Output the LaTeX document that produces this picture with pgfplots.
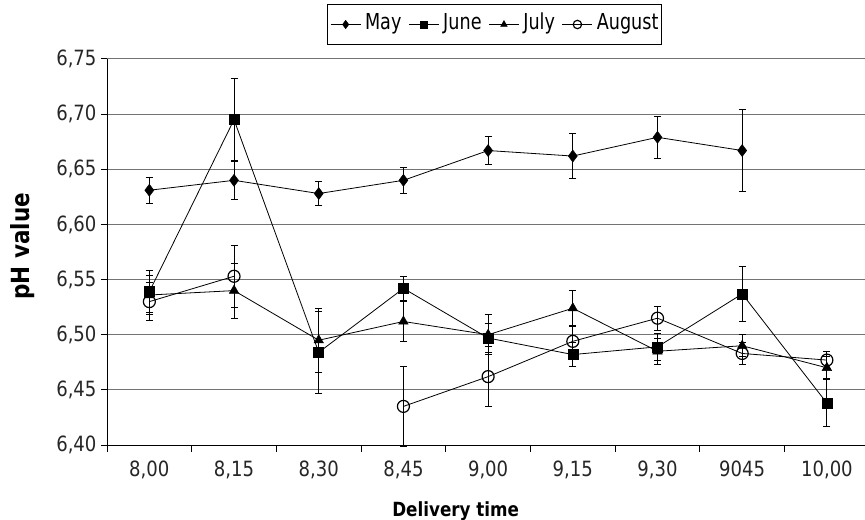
\documentclass[border=0pt]{standalone}
\usepackage{fontspec}
\setmainfont{DejaVu Sans}[FakeStretch=0.86]
\newfontfamily\legfont{DejaVu Sans}[FakeStretch=0.8]
\usepackage{pgfplots}
\pgfplotsset{compat=1.18}
\begin{document}
\begin{tikzpicture}
\useasboundingbox (0,0) rectangle (865bp,520bp);
\begin{axis}[
  at={(107bp,75bp)}, anchor=south west,
  scale only axis, width=758bp, height=386bp,
  xmin=-0.5, xmax=8.45, ymin=6.40, ymax=6.75,
  axis x line*=bottom, axis y line*=left,
  axis line style={black, line width=1bp},
  xtick={0,1,2,3,4,5,6,7,8},
  xticklabels={{8,00},{8,15},{8,30},{8,45},{9,00},{9,15},{9,30},{9045},{10,00}},
  major x tick style={draw=none},
  minor xtick={-0.5,0.5,1.5,2.5,3.5,4.5,5.5,6.5,7.5},
  minor x tick style={black, line width=1bp},
  tick align=outside,
  minor tick length=7bp, major tick length=6bp,
  ytick={6.40,6.45,6.50,6.55,6.60,6.65,6.70,6.75},
  y tick style={black, line width=1bp},
  ymajorgrids, grid style={black!55, line width=1bp},
  yticklabel style={xshift=-1bp, /pgf/number format/.cd, fixed, fixed zerofill, precision=2, use comma},
  /pgf/number format/assume math mode=true,
  tick label style={font=\fontsize{21bp}{25bp}\selectfont, text=black!85},
  xticklabel style={yshift=-6bp},
  ylabel={pH value},
  ylabel style={font=\bfseries\fontsize{25bp}{29bp}\selectfont, at={(axis description cs:-0.112,0.515)}, anchor=center},
  xlabel={Delivery time},
  xlabel style={font=\bfseries\fontsize{19.5bp}{24bp}\selectfont, at={(axis description cs:0.46,-0.1857)}, anchor=base},
  legend style={at={(axis description cs:0.511,1)}, anchor=south, yshift=14bp,
    legend columns=4, draw=black, line width=1bp, inner xsep=3bp, inner ysep=10bp,
    font=\legfont\fontsize{22bp}{25bp}\selectfont,
    nodes={inner sep=0pt, text height=15bp, text depth=5bp},
    /tikz/every odd column/.append style={column sep=4bp},
    /tikz/every even column/.append style={column sep=7bp}},
  legend image code/.code={\draw[mark repeat=2,mark phase=2,#1, every mark/.append style={scale=0.7}] plot coordinates {(0bp,0bp)(15bp,0bp)(30bp,0bp)};},
  unbounded coords=jump,
  clip=false,
]
\addplot[black, line width=0.8bp, mark=diamond*, mark size=6bp, mark options={solid, fill=black, line width=0.5bp},
  error bars/.cd, y dir=both, y explicit, error bar style={line width=1bp, black},
  error mark options={rotate=90, mark size=3.5bp, line width=1bp, black}]
  coordinates {(0,6.631) +- (0,0.012) (1,6.640) +- (0,0.017) (2,6.628) +- (0,0.011) (3,6.640) +- (0,0.012)
  (4,6.667) +- (0,0.013) (5,6.662) +- (0,0.020) (6,6.679) +- (0,0.019) (7,6.667) +- (0,0.037)};
\addplot[black, line width=0.8bp, mark=square*, mark size=5bp, mark options={solid, fill=black, line width=0.5bp},
  error bars/.cd, y dir=both, y explicit, error bar style={line width=1bp, black},
  error mark options={rotate=90, mark size=3.5bp, line width=1bp, black}]
  coordinates {(0,6.539) +- (0,0.019) (1,6.695) +- (0,0.037) (2,6.484) +- (0,0.037) (3,6.542) +- (0,0.011)
  (4,6.497) +- (0,0.013) (5,6.482) +- (0,0.011) (6,6.489) +- (0,0.012) (7,6.537) +- (0,0.025) (8,6.438) +- (0,0.021)};
\addplot[black, line width=0.8bp, mark=triangle*, mark size=5.5bp, mark options={solid, fill=black, line width=0.5bp},
  error bars/.cd, y dir=both, y explicit, error bar style={line width=1bp, black},
  error mark options={rotate=90, mark size=3.5bp, line width=1bp, black}]
  coordinates {(0,6.536) +- (0,0.018) (1,6.540) +- (0,0.025) (2,6.495) +- (0,0.029) (3,6.512) +- (0,0.018)
  (4,6.500) +- (0,0.018) (5,6.524) +- (0,0.016) (6,6.485) +- (0,0.012) (7,6.490) +- (0,0.010) (8,6.470) +- (0,0.010)};
\addplot[black, line width=0.8bp, mark=o, mark size=6bp, mark options={solid, line width=1.2bp},
  error bars/.cd, y dir=both, y explicit, error bar style={line width=1bp, black},
  error mark options={rotate=90, mark size=3.5bp, line width=1bp, black}]
  coordinates {(0,6.530) +- (0,0.017) (1,6.553) +- (0,0.028) (2,nan) +- (0,0) (3,6.435) +- (0,0.036)
  (4,6.462) +- (0,0.027) (5,6.494) +- (0,0.013) (6,6.515) +- (0,0.011) (7,6.483) +- (0,0.010) (8,6.477) +- (0,0.008)};
\legend{May,June,July,August}
\end{axis}
\end{tikzpicture}
\end{document}
